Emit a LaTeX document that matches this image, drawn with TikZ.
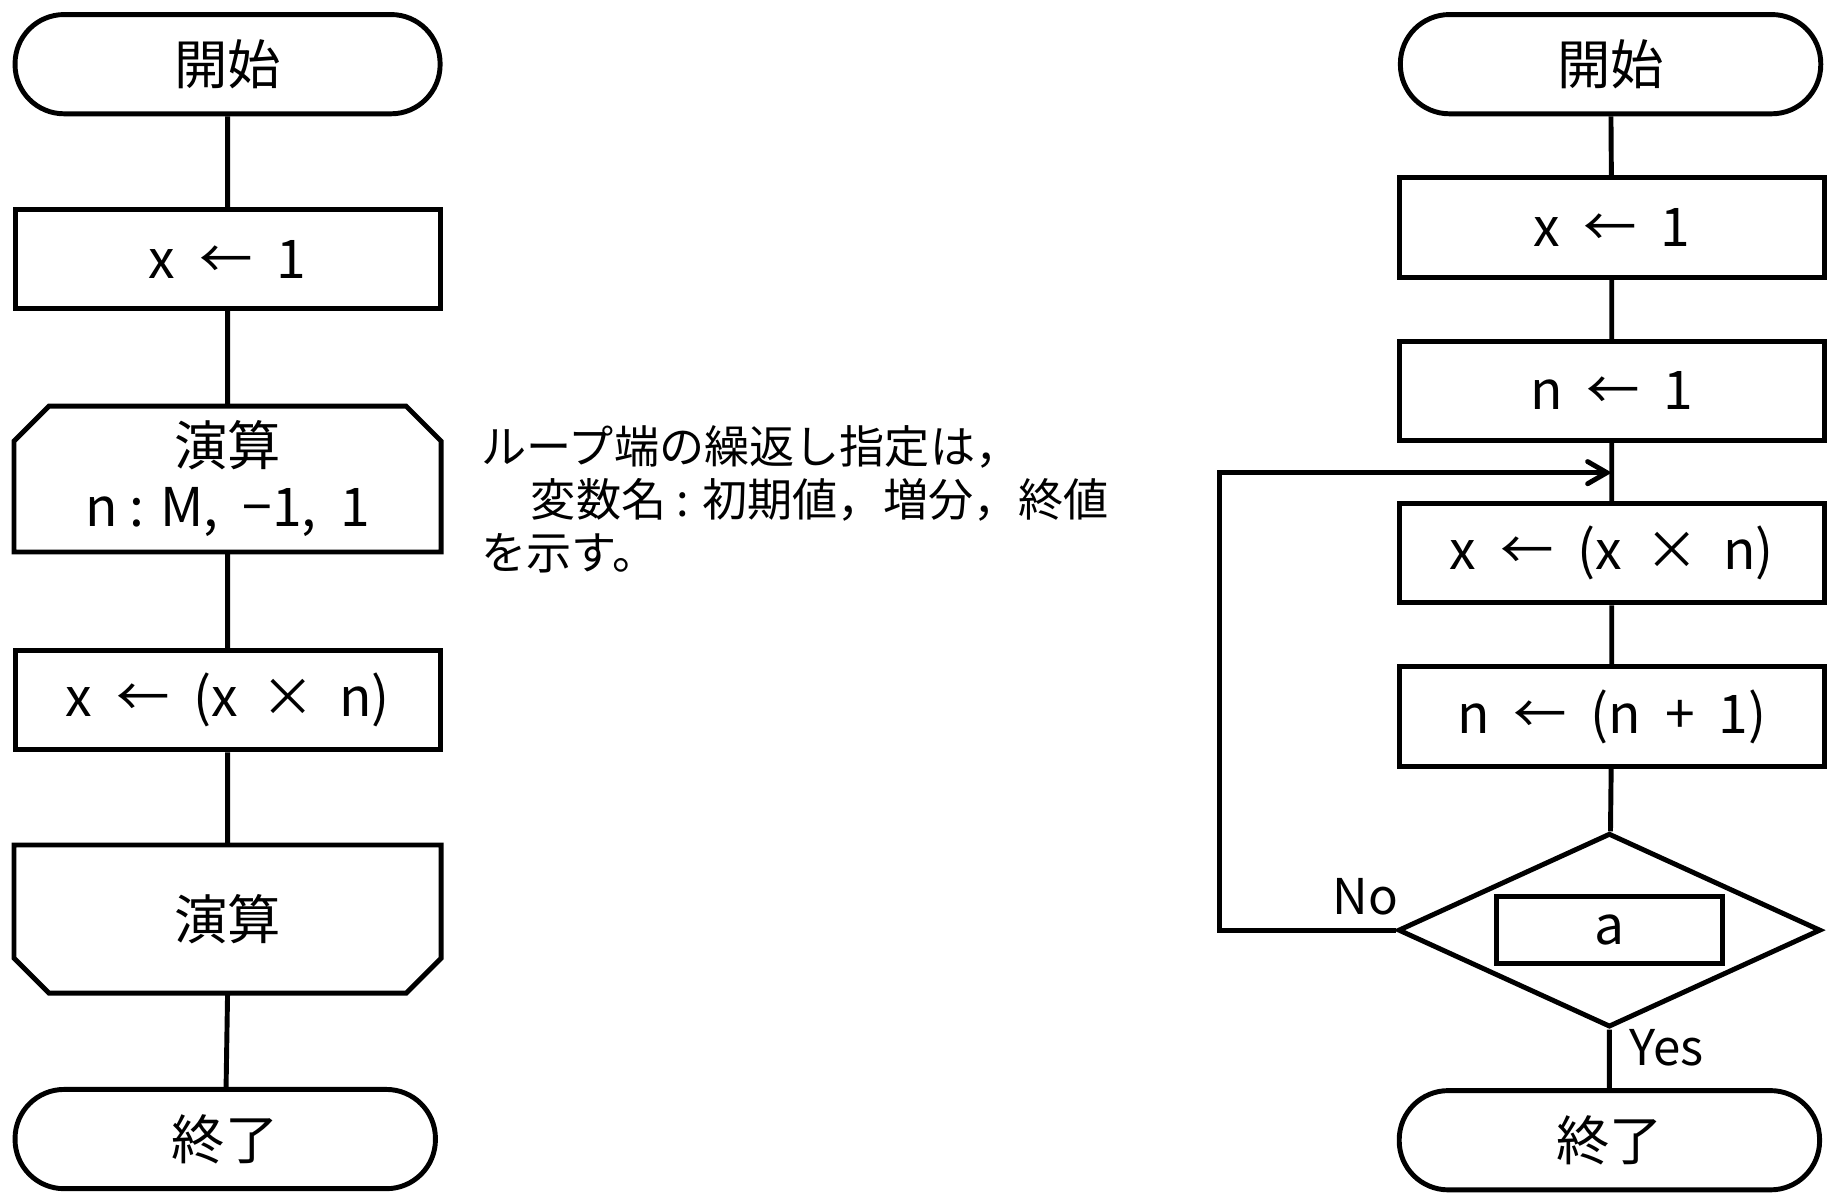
\documentclass[tikz,border=0pt]{standalone}
\usepackage{fontspec}
\setmainfont{Noto Sans CJK JP}
\usetikzlibrary{shapes,arrows}
\tikzset{
  term/.style={draw,line width=1.2pt,rectangle,rounded corners=0.42cm,minimum width=3.64cm,minimum height=0.85cm,font=\fontsize{13}{15}\selectfont},
  proc/.style={draw,line width=1.2pt,rectangle,minimum width=3.64cm,minimum height=0.85cm,font=\fontsize{13}{15}\selectfont},
  loopb/.style={rectangle,minimum width=3.64cm,minimum height=1.26cm,align=center,font=\fontsize{13}{15}\selectfont},
  flow/.style={line width=1.2pt}
}
\begin{document}
\begin{tikzpicture}[x=0.01cm,y=-0.01cm]
\useasboundingbox (0,0) rectangle (1568,1028);
	% left chart
	\node[term] (A) at (195,55) {開始};
	\node[proc] (B) at (195,222) {x\ \ ←\ \ 1};
	\node[loopb] (C) at (195,410) {演算\\n : M,\ \ −1,\ \ 1};
	\node[proc] (D) at (195,600) {x\ \ ←\ \ (x\ \ ×\ \ n)};
	\node[loopb] (E) at (195,788) {演算};
	\node[term,minimum width=3.6cm] (F) at (193,976) {終了};
	\draw[flow] (12,473) -- (12,378) -- (42,348) -- (348,348) -- (378,378) -- (378,473) -- cycle;
	\draw[flow] (12,724) -- (12,821) -- (42,851) -- (348,851) -- (378,821) -- (378,724) -- cycle;
	\node[anchor=north west,align=left,font=\fontsize{11}{13}\selectfont] (N) at (400,352)
	  {ループ端の繰返し指定は，\\\hspace*{1.1em}変数名 : 初期値，増分，終値\\を示す。};
	\draw[flow] (A) -- (B) (B) -- (195,348) (195,473) -- (D) (D) -- (195,724) (195,851) -- (F);
	% right chart
	\node[term,minimum width=3.6cm] (G) at (1380,55) {開始};
	\node[proc] (H) at (1381,195) {x\ \ ←\ \ 1};
	\node[proc] (I) at (1381,335) {n\ \ ←\ \ 1};
	\node[proc] (J) at (1381,474) {x\ \ ←\ \ (x\ \ ×\ \ n)};
	\node[proc] (K) at (1381,614) {n\ \ ←\ \ (n\ \ +\ \ 1)};
	\node[diamond,draw,line width=1.2pt,minimum width=3.62cm,minimum height=1.66cm,inner sep=0pt] (L) at (1379,797) {};
	\node[proc,minimum width=1.94cm,minimum height=0.57cm] (M) at (1379,797) {a};
	\node[term,minimum width=3.6cm] (O) at (1379,977) {終了};
	\coordinate (P) at (1381,405);
	\coordinate (Q) at (1045,797);
	\node[font=\fontsize{12}{14}\selectfont] (NO) at (1170,768) {No};
	\node[font=\fontsize{12}{14}\selectfont] (YES) at (1428,898) {Yes};
	\draw[flow] (G) -- (H) (H) -- (I) (I) -- (J) (J) -- (K) (K) -- (L) (L) -- (O);
	\draw[flow,->,>=angle 60] (L.west) -- (Q) |- (P);
\end{tikzpicture}
\end{document}
